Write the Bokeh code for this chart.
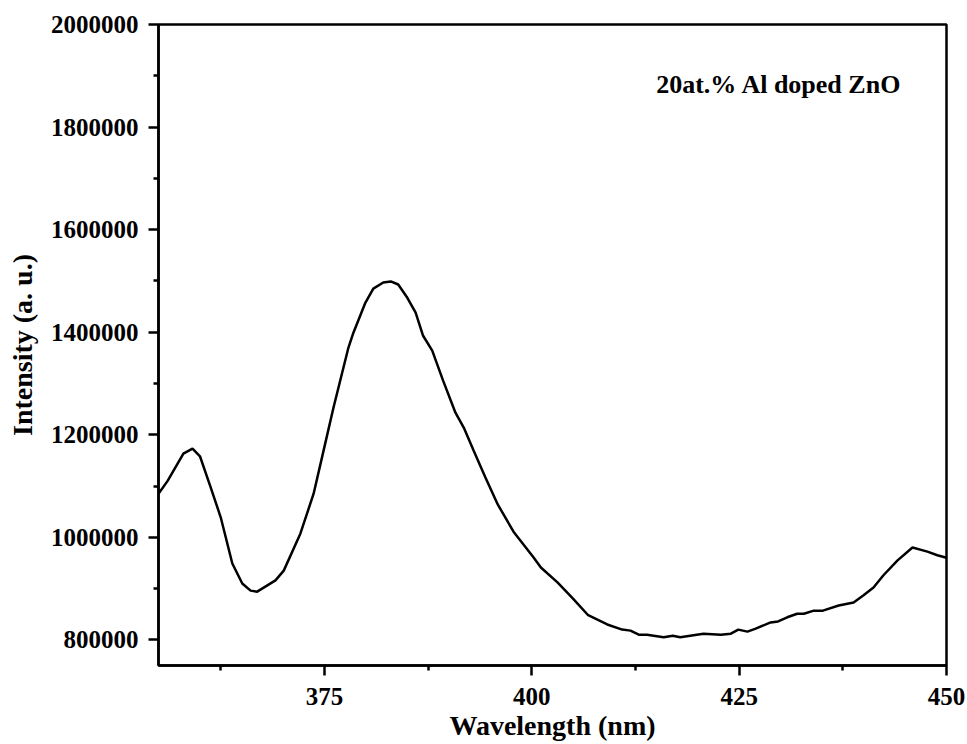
from bokeh.plotting import figure
from bokeh.models import FixedTicker, BasicTickFormatter, Label, ColumnDataSource
from bokeh.embed import file_html
from bokeh.resources import INLINE

wavelength = [355.0, 356.1, 358.0, 359.1, 360.0, 361.3, 362.5, 363.9, 365.1, 366.1,
              366.9, 369.1, 370.1, 372.1, 373.7, 374.9, 376.1, 377.9, 378.5, 379.9,
              380.9, 382.1, 383.0, 383.9, 385.0, 386.0, 386.9, 388.0, 389.3, 390.8,
              391.8, 393.0, 394.4, 395.9, 397.8, 400.2, 401.1, 403.1, 405.0, 406.8,
              409.1, 410.9, 411.9, 412.9, 413.9, 415.9, 417.0, 417.9, 419.1, 420.7,
              422.8, 424.0, 424.9, 426.0, 427.0, 428.8, 429.7, 430.8, 432.0, 432.8,
              434.0, 435.1, 437.0, 438.8, 440.0, 441.2, 442.4, 444.1, 445.9, 447.7,
              448.9, 450.0]
intensity = [1085000, 1110000, 1163000, 1173000, 1158000, 1097000, 1039000, 949000, 910000, 896000,
             894000, 916000, 935000, 1007000, 1085000, 1169000, 1253000, 1370000, 1399000, 1456000,
             1485000, 1497000, 1499000, 1493000, 1467000, 1438000, 1393000, 1364000, 1306000, 1243000,
             1214000, 1169000, 1117000, 1064000, 1011000, 961000, 941000, 912000, 880000, 848000,
             830000, 820000, 818000, 810000, 810000, 805000, 808000, 805000, 808000, 812000,
             810000, 812000, 820000, 816000, 822000, 834000, 836000, 844000, 851000, 851000,
             857000, 857000, 867000, 873000, 887000, 902000, 926000, 955000, 980000, 972000,
             965000, 960000]

x_ticks = [375, 400, 425, 450]
x_minor = [362.5, 387.5, 412.5, 437.5]
y_ticks = [800000, 1000000, 1200000, 1400000, 1600000, 1800000, 2000000]
y_minor = [900000, 1100000, 1300000, 1500000, 1700000, 1900000]
x_range = (355, 450)
y_range = (750000, 2000000)
x_title = "Wavelength (nm)"
y_title = "Intensity (a. u.)"
annotation = "20at.% Al doped ZnO"

FONT = "Liberation Serif"

p = figure(width=967, height=744, x_range=x_range, y_range=y_range,
           output_backend="svg", toolbar_location=None,
           min_border_left=158, min_border_right=21, min_border_top=24, min_border_bottom=79)

src = ColumnDataSource(dict(x=wavelength, y=intensity))
p.line("x", "y", source=src, line_color="black", line_width=2.5)

p.xgrid.visible = False
p.ygrid.visible = False
p.outline_line_color = "black"
p.outline_line_width = 2.5
p.background_fill_color = "white"
p.border_fill_color = "white"

p.xaxis.ticker = FixedTicker(ticks=x_ticks, minor_ticks=x_minor)
p.yaxis.ticker = FixedTicker(ticks=y_ticks, minor_ticks=y_minor)
p.yaxis.formatter = BasicTickFormatter(use_scientific=False)

for ax in (p.xaxis[0], p.yaxis[0]):
    ax.axis_line_width = 2.5
    ax.axis_line_color = "black"
    ax.major_tick_line_width = 2.5
    ax.minor_tick_line_width = 2.5
    ax.major_tick_in = 0
    ax.major_tick_out = 10
    ax.minor_tick_in = 0
    ax.minor_tick_out = 5
    ax.major_label_text_font = FONT
    ax.major_label_text_font_style = "bold"
    ax.major_label_text_font_size = "25px"
    ax.major_label_text_color = "black"
    ax.axis_label_text_font = FONT
    ax.axis_label_text_font_style = "bold"
    ax.axis_label_text_font_size = "28px"
    ax.axis_label_text_color = "black"

p.xaxis.axis_label = x_title
p.yaxis.axis_label = y_title
p.xaxis.major_label_standoff = 12
p.yaxis.major_label_standoff = 10
p.xaxis.axis_label_standoff = 2
p.yaxis.axis_label_standoff = 10

lbl = Label(x=415.0, y=1883000, text=annotation,
            text_font=FONT, text_font_style="bold", text_font_size="26px",
            text_color="black", text_baseline="alphabetic")
p.add_layout(lbl)

open("out.html", "w").write(file_html(p, INLINE))
